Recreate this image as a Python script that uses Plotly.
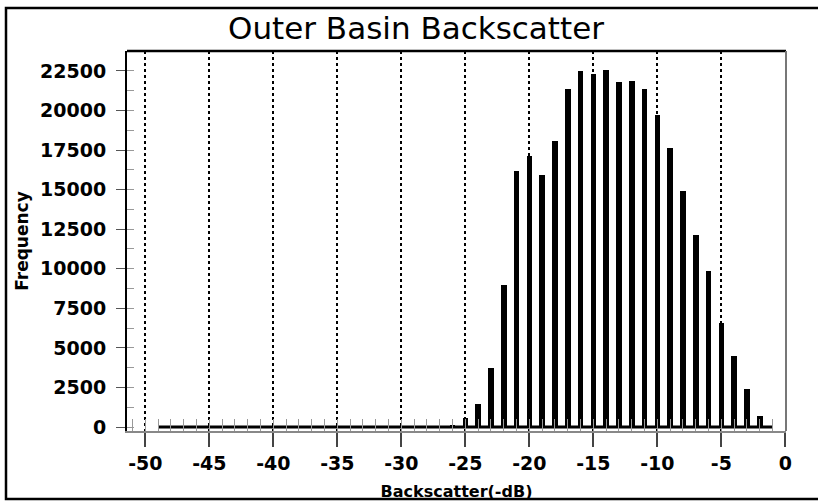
import plotly.graph_objects as go

# Bin centres (Backscatter, dB) and frequencies
bins = list(range(-49, 0))
freq_map = {
    -26: 100, -25: 560, -24: 1450, -23: 3700, -22: 9000, -21: 16150,
    -20: 17150, -19: 15950, -18: 18050, -17: 21380, -16: 22500,
    -15: 22280, -14: 22580, -13: 21800, -12: 21840, -11: 21340,
    -10: 19700, -9: 17650, -8: 14920, -7: 12120, -6: 9850, -5: 6590,
    -4: 4480, -3: 2380, -2: 690,
}
frequency = [freq_map.get(b, 0) for b in bins]
baseline = [0 for _ in bins]

x_ticks = list(range(-50, 1, 5))
y_ticks = list(range(0, 22501, 2500))

title_text = "Outer Basin Backscatter"
x_title = "Backscatter(-dB)"
y_title = "Frequency"

fig = go.Figure()
fig.add_trace(go.Bar(
    x=bins, y=frequency, width=0.44,
    marker=dict(color="black", line=dict(width=0)),
    showlegend=False, hoverinfo="x+y",
))
fig.add_trace(go.Scatter(
    x=bins, y=baseline, mode="lines",
    line=dict(color="black", width=3),
    showlegend=False, hoverinfo="skip",
))

fig.update_layout(
    width=818, height=501,
    margin=dict(l=127, r=32, t=51, b=70, autoexpand=False),
    paper_bgcolor="white", plot_bgcolor="white",
    font=dict(family="DejaVu Sans", color="black"),
    title=dict(text=title_text, x=416 / 818, xanchor="center", xref="container",
               y=1 - 28 / 501, yanchor="middle",
               font=dict(family="DejaVu Sans", size=31, color="black")),
    bargap=0,
    xaxis=dict(
        range=[-51.43, 0.05],
        tickmode="array", tickvals=x_ticks, ticktext=[str(v) for v in x_ticks],
        tickfont=dict(family="DejaVu Sans", size=19, color="black", weight="bold"),
        ticks="outside", ticklen=14, tickcolor="#444", tickwidth=1.5,
        showgrid=True, gridcolor="black", griddash="dot", gridwidth=1.5,
        zeroline=False,
        showline=True, linecolor="#888", linewidth=2,
        minor=dict(ticks="inside", dtick=1, tick0=0, ticklen=12,
                   tickcolor="#999", tickwidth=1, showgrid=False),
        title=dict(text=x_title, standoff=14,
                   font=dict(family="DejaVu Sans", size=16, color="black", weight="bold")),
    ),
    yaxis=dict(
        range=[-250, 23760],
        tickmode="array", tickvals=y_ticks, ticktext=[str(v) for v in y_ticks],
        tickfont=dict(family="DejaVu Sans", size=19, color="black", weight="bold"),
        ticks="outside", ticklen=9, tickcolor="#555", tickwidth=1,
        ticklabelstandoff=6,
        showgrid=False, zeroline=False,
        showline=True, linecolor="black", linewidth=2,
        minor=dict(ticks="inside", dtick=1250, tick0=0, ticklen=7,
                   tickcolor="#999", tickwidth=1, showgrid=False),
        title=dict(text=y_title, standoff=7,
                   font=dict(family="DejaVu Sans", size=17, color="black", weight="bold")),
    ),
    shapes=[
        # top frame of plot area
        dict(type="line", xref="paper", yref="paper", x0=0, x1=1, y0=1, y1=1,
             line=dict(color="black", width=2.5)),
        # right frame of plot area
        dict(type="line", xref="paper", yref="paper", x0=1, x1=1, y0=0, y1=1,
             line=dict(color="#777", width=2)),
        # outer border of the whole figure
        dict(type="rect", xref="paper", yref="paper",
             x0=(6 - 127) / 659, x1=(822 - 127) / 659,
             y0=(431 - 499) / 380, y1=(431 - 8) / 380,
             line=dict(color="black", width=2.5), fillcolor="rgba(0,0,0,0)",
             layer="below"),
    ],
)

fig.write_html(
    "out.html",
    config={"displayModeBar": False},
    post_script="document.body.style.margin='0';document.body.style.overflow='hidden';",
)
